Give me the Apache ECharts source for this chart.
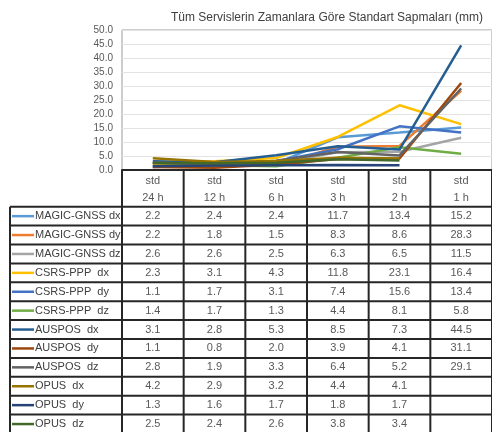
<!DOCTYPE html>
<html>
<head>
<meta charset="utf-8">
<script src="https://cdn.jsdelivr.net/npm/echarts@6/dist/echarts.min.js"></script>
<style>
  html, body { margin: 0; padding: 0; background: #fff; }
  #chart { width: 492px; height: 432px; }
</style>
</head>
<body>
<div id="chart"></div>
<script>
// Standard deviations (mm) per service and session length
const chartTitle = 'Tüm Servislerin Zamanlara Göre Standart Sapmaları (mm)';
const headerPrefix = 'std';
const periods = ['24 h', '12 h', '6 h', '3 h', '2 h', '1 h'];

const seriesNames = [
  'MAGIC-GNSS dx', 'MAGIC-GNSS dy', 'MAGIC-GNSS dz',
  'CSRS-PPP  dx', 'CSRS-PPP  dy', 'CSRS-PPP  dz',
  'AUSPOS  dx', 'AUSPOS  dy', 'AUSPOS  dz',
  'OPUS  dx', 'OPUS  dy', 'OPUS  dz'
];

const magicDx  = [2.2, 2.4, 2.4, 11.7, 13.4, 15.2];
const magicDy  = [2.2, 1.8, 1.5, 8.3, 8.6, 28.3];
const magicDz  = [2.6, 2.6, 2.5, 6.3, 6.5, 11.5];
const csrsDx   = [2.3, 3.1, 4.3, 11.8, 23.1, 16.4];
const csrsDy   = [1.1, 1.7, 3.1, 7.4, 15.6, 13.4];
const csrsDz   = [1.4, 1.7, 1.3, 4.4, 8.1, 5.8];
const ausposDx = [3.1, 2.8, 5.3, 8.5, 7.3, 44.5];
const ausposDy = [1.1, 0.8, 2.0, 3.9, 4.1, 31.1];
const ausposDz = [2.8, 1.9, 3.3, 6.4, 5.2, 29.1];
const opusDx   = [4.2, 2.9, 3.2, 4.4, 4.1, null];
const opusDy   = [1.3, 1.6, 1.7, 1.8, 1.7, null];
const opusDz   = [2.5, 2.4, 2.6, 3.8, 3.4, null];

const yTicks = { min: 0, max: 50, interval: 5 };

const seriesValues = [
  magicDx, magicDy, magicDz,
  csrsDx, csrsDy, csrsDz,
  ausposDx, ausposDy, ausposDz,
  opusDx, opusDy, opusDz
];

const palette = [
  '#5B9BD5', '#ED7D31', '#A5A5A5',
  '#FFC000', '#4472C4', '#70AD47',
  '#255E91', '#9E480E', '#636363',
  '#997300', '#264478', '#43682B'
];

// Layout of the data table under the plot
const table = {
  left: 10,
  keyX1: 12, keyX2: 34, labelX: 35,
  headerBottom: 206.7,
  rowH: 18.9,
  bottom: 433,
  lineColor: '#262626',
  lineWidth: 2
};

const font = '"Liberation Sans", "Noto Sans", sans-serif';

const chart = echarts.init(document.getElementById('chart'), null, { renderer: 'canvas' });

chart.setOption({
  animation: false,
  backgroundColor: '#fff',
  color: palette,
  title: {
    text: chartTitle,
    left: 166,
    top: 7,
    textStyle: { fontFamily: font, fontSize: 12, fontWeight: 'normal', color: '#404040' }
  },
  grid: {
    left: 122, right: -1, top: 30, bottom: 262,
    show: true, borderColor: '#9a9a9a', borderWidth: 1,
    containLabel: false
  },
  xAxis: {
    type: 'category',
    data: periods,
    boundaryGap: true,
    axisLine: { show: true, lineStyle: { color: table.lineColor, width: table.lineWidth } },
    axisTick: { show: false },
    splitLine: { show: false },
    axisLabel: {
      formatter: v => headerPrefix + '\n' + v,
      fontFamily: font, fontSize: 11, color: '#595959',
      lineHeight: 17, margin: 2
    }
  },
  yAxis: {
    type: 'value',
    min: yTicks.min, max: yTicks.max, interval: yTicks.interval,
    axisLine: { show: false },
    axisTick: { show: false },
    splitLine: { lineStyle: { color: '#e3e3e3', width: 1 } },
    axisLabel: {
      formatter: v => v.toFixed(1),
      fontFamily: font, fontSize: 10, color: '#595959', margin: 9
    }
  },
  series: seriesNames.map((name, i) => ({
    name,
    type: 'line',
    data: seriesValues[i],
    showSymbol: false,
    symbol: 'none',
    connectNulls: false,
    lineStyle: { width: 2.5, color: palette[i] },
    itemStyle: { color: palette[i] }
  }))
});

// Data table drawn on the category columns of the x axis
function buildTable() {
  const centers = periods.map(p => chart.convertToPixel({ xAxisIndex: 0 }, p));
  const colW = centers.length > 1 ? centers[1] - centers[0] : 60;
  const bounds = centers.map(c => c - colW / 2);
  bounds.push(centers[centers.length - 1] + colW / 2);
  const axisY = chart.convertToPixel({ yAxisIndex: 0 }, 0);
  const right = bounds[bounds.length - 1];
  const els = [];
  const stroke = { stroke: table.lineColor, lineWidth: table.lineWidth };

  // column separators
  bounds.forEach(x => {
    els.push({ type: 'line', shape: { x1: x, y1: axisY, x2: x, y2: table.bottom }, style: stroke, z: 10 });
  });
  // left border of the series labels column
  els.push({ type: 'line', shape: { x1: table.left, y1: table.headerBottom, x2: table.left, y2: table.bottom }, style: stroke, z: 10 });
  // row separators
  for (let r = 0; r <= seriesNames.length; r++) {
    const y = table.headerBottom + r * table.rowH;
    els.push({ type: 'line', shape: { x1: table.left, y1: y, x2: right, y2: y }, style: stroke, z: 10 });
  }

  seriesNames.forEach((name, r) => {
    const cy = table.headerBottom + r * table.rowH + table.rowH / 2;
    els.push({
      type: 'line',
      shape: { x1: table.keyX1, y1: cy, x2: table.keyX2, y2: cy },
      style: { stroke: palette[r], lineWidth: 2.5 }, z: 10
    });
    els.push({
      type: 'text', x: table.labelX, y: cy, z: 10,
      style: {
        text: name, fill: '#404040',
        font: '11px ' + font,
        textAlign: 'left', textVerticalAlign: 'middle'
      }
    });
    seriesValues[r].forEach((v, c) => {
      if (v === null || v === undefined) return;
      els.push({
        type: 'text', x: centers[c], y: cy, z: 10,
        style: {
          text: v.toFixed(1), fill: '#595959',
          font: '11px ' + font,
          textAlign: 'center', textVerticalAlign: 'middle'
        }
      });
    });
  });

  chart.setOption({ graphic: { elements: els } });
}

buildTable();
</script>
</body>
</html>
